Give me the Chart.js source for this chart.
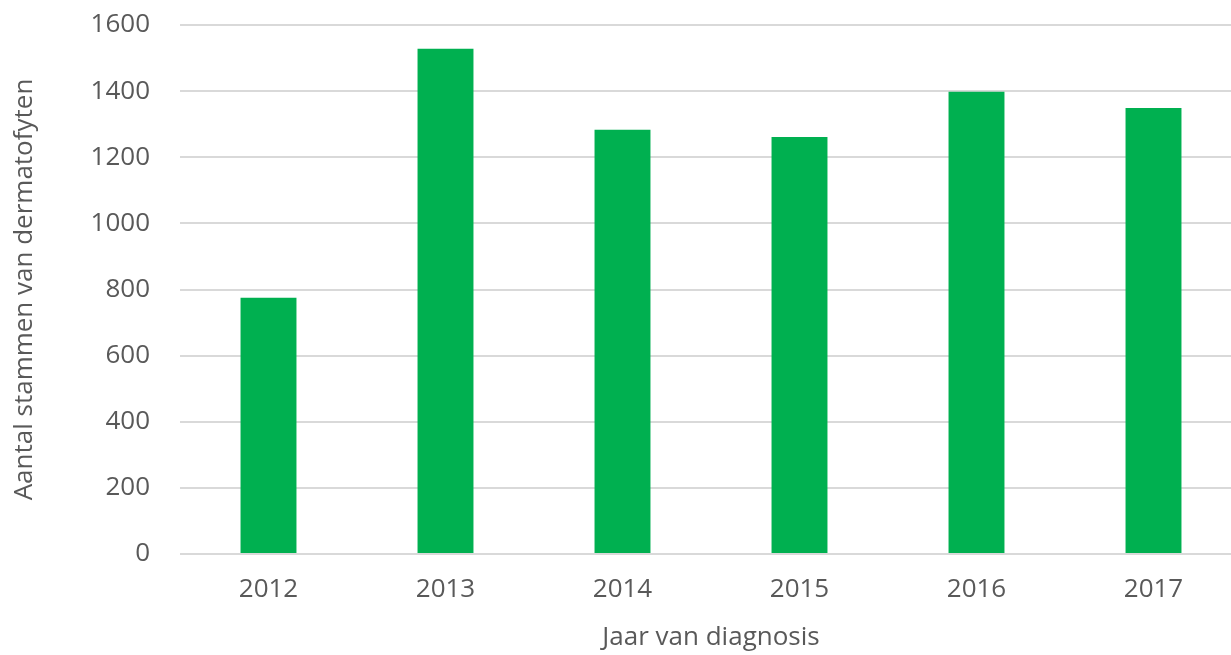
<!DOCTYPE html>
<html>
<head>
<meta charset="utf-8">
<script src="https://cdn.jsdelivr.net/npm/chart.js@4/dist/chart.umd.min.js"></script>
<style>
html,body{margin:0;padding:0;overflow:hidden;background:#fff;}
#wrap{width:1242px;height:655px;position:relative;}
</style>
</head>
<body>
<div id="wrap"><canvas id="c"></canvas></div>
<script>
const categories = ['2012','2013','2014','2015','2016','2017'];
const values = [775, 1528, 1283, 1261, 1398, 1349];
const yTicks = [0,200,400,600,800,1000,1200,1400,1600];
const xTitle = 'Jaar van diagnosis';
const yTitle = 'Aantal stammen van dermatofyten';

const FONT = "'Open Sans', sans-serif";
const GREY = '#595959';

new Chart(document.getElementById('c'), {
  type: 'bar',
  data: {
    labels: categories,
    datasets: [{
      data: values,
      backgroundColor: '#00B050',
      borderWidth: 0,
      categoryPercentage: 1,
      barPercentage: 0.316
    }]
  },
  options: {
    responsive: true,
    maintainAspectRatio: false,
    animation: false,
    layout: { padding: { top: 25, left: 0, right: 0, bottom: 0 } },
    plugins: { legend: { display: false }, tooltip: { enabled: false } },
    scales: {
      x: {
        grid: { display: false, drawTicks: false },
        border: { display: false },
        ticks: { color: GREY, font: { family: FONT, size: 26 }, padding: 20 },
        title: { display: true, text: xTitle, color: GREY, font: { family: FONT, size: 26 }, padding: { top: 8, bottom: 2 } },
        afterFit: s => { s.height = 101; s.paddingLeft = 0; s.paddingRight = 0; }
      },
      y: {
        min: 0, max: 1600,
        afterBuildTicks: s => { s.ticks = yTicks.map(v => ({ value: v })); },
        grid: { color: '#d9d9d9', lineWidth: 2, drawTicks: false },
        border: { display: false },
        ticks: { color: GREY, font: { family: FONT, size: 26 }, padding: 30, callback: v => String(v) },
        title: { display: true, text: yTitle, color: GREY, font: { family: FONT, size: 26 }, padding: { top: 9, bottom: 0 } },
        afterFit: s => { s.width = 180; s.paddingTop = 0; s.paddingBottom = 0; }
      }
    }
  }
});
</script>
</body>
</html>
